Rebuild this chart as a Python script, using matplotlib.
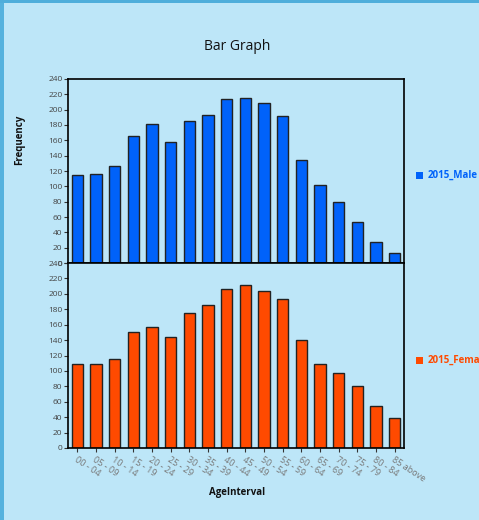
import matplotlib
matplotlib.use("Agg")
import matplotlib.pyplot as plt
from matplotlib.patches import Rectangle

categories = ["00 - 04", "05 - 09", "10 - 14", "15 - 19", "20 - 24", "25 - 29",
              "30 - 34", "35 - 39", "40 - 44", "45 - 49", "50 - 54", "55 - 59",
              "60 - 64", "65 - 69", "70 - 74", "75 - 79", "80 - 84", "85 above"]
male = [115, 116, 126, 166, 181, 158, 185, 193, 214, 215, 209, 192, 134, 102, 79, 54, 28, 13]
female = [109, 109, 116, 150, 157, 144, 175, 185, 206, 211, 204, 193, 140, 109, 97, 80, 54, 39]
yticks = list(range(0, 241, 20))

W, H = 479, 520
bg = "#BDE6F8"
fig = plt.figure(figsize=(W / 100, H / 100), dpi=100, facecolor=bg)
plt.rcParams['font.family'] = ['Open Sans', 'DejaVu Sans']

# outer window borders
fig.patches.append(Rectangle((0, 0), 4 / W, 1, transform=fig.transFigure,
                             facecolor="#55B2DE", edgecolor="none", zorder=0))
fig.patches.append(Rectangle((0, 1 - 3 / H), 1, 3 / H, transform=fig.transFigure,
                             facecolor="#4FAEDB", edgecolor="none", zorder=0))

left = 68 / W
width = (404 - 68) / W
ax1 = fig.add_axes([left, 1 - 263 / H, width, (263 - 79) / H])
ax2 = fig.add_axes([left, 1 - 448 / H, width, (448 - 263) / H])

x = list(range(len(categories)))
series = [(ax1, male, "#0062FA", "2015_Male", 175),
          (ax2, female, "#FF4A00", "2015_Female", 360)]
for ax, vals, col, name, ly in series:
    ax.set_facecolor(bg)
    ax.bar(x, vals, width=0.6, color=col, edgecolor="#222222", linewidth=1.0, zorder=2)
    ax.set_xlim(-0.5, len(categories) - 0.5)
    ax.set_ylim(0, 240)
    ax.set_yticks(yticks)
    ax.tick_params(axis='y', labelsize=6, colors="#333333", length=3, width=0.8, pad=1,
                   labelcolor="#444444")
    for s in ax.spines.values():
        s.set_color("black")
        s.set_linewidth(1.2)
    # legend
    fig.patches.append(Rectangle((416 / W, 1 - (ly + 4) / H), 7 / W, 7 / H,
                                 transform=fig.transFigure, facecolor=col,
                                 edgecolor="none"))
    fig.text(428 / W, 1 - ly / H, name, color=col, fontsize=7, fontweight='bold',
             va='center', ha='left', fontstretch='condensed')

ax1.set_xticks(x)
ax1.tick_params(axis='x', length=0, labelbottom=False)
ax2.set_xticks(x)
ax2.set_xticklabels(categories, rotation=-33, ha='left', va='top',
                    rotation_mode='anchor', fontsize=6.5, color="#777777")
ax2.tick_params(axis='x', length=3, color="#333333", pad=2)

fig.text(237 / W, 1 - 46 / H, "Bar Graph", fontsize=10, ha='center', va='center',
         color="#111111")
fig.text(20 / W, 1 - 140 / H, "Frequency", fontsize=7, fontweight='bold', rotation=90,
         ha='center', va='center', color="#111111")
fig.text(237 / W, 1 - 492 / H, "AgeInterval", fontsize=7, fontweight='bold',
         ha='center', va='center', color="#111111")

fig.savefig("out.png", dpi=100, facecolor=bg)
